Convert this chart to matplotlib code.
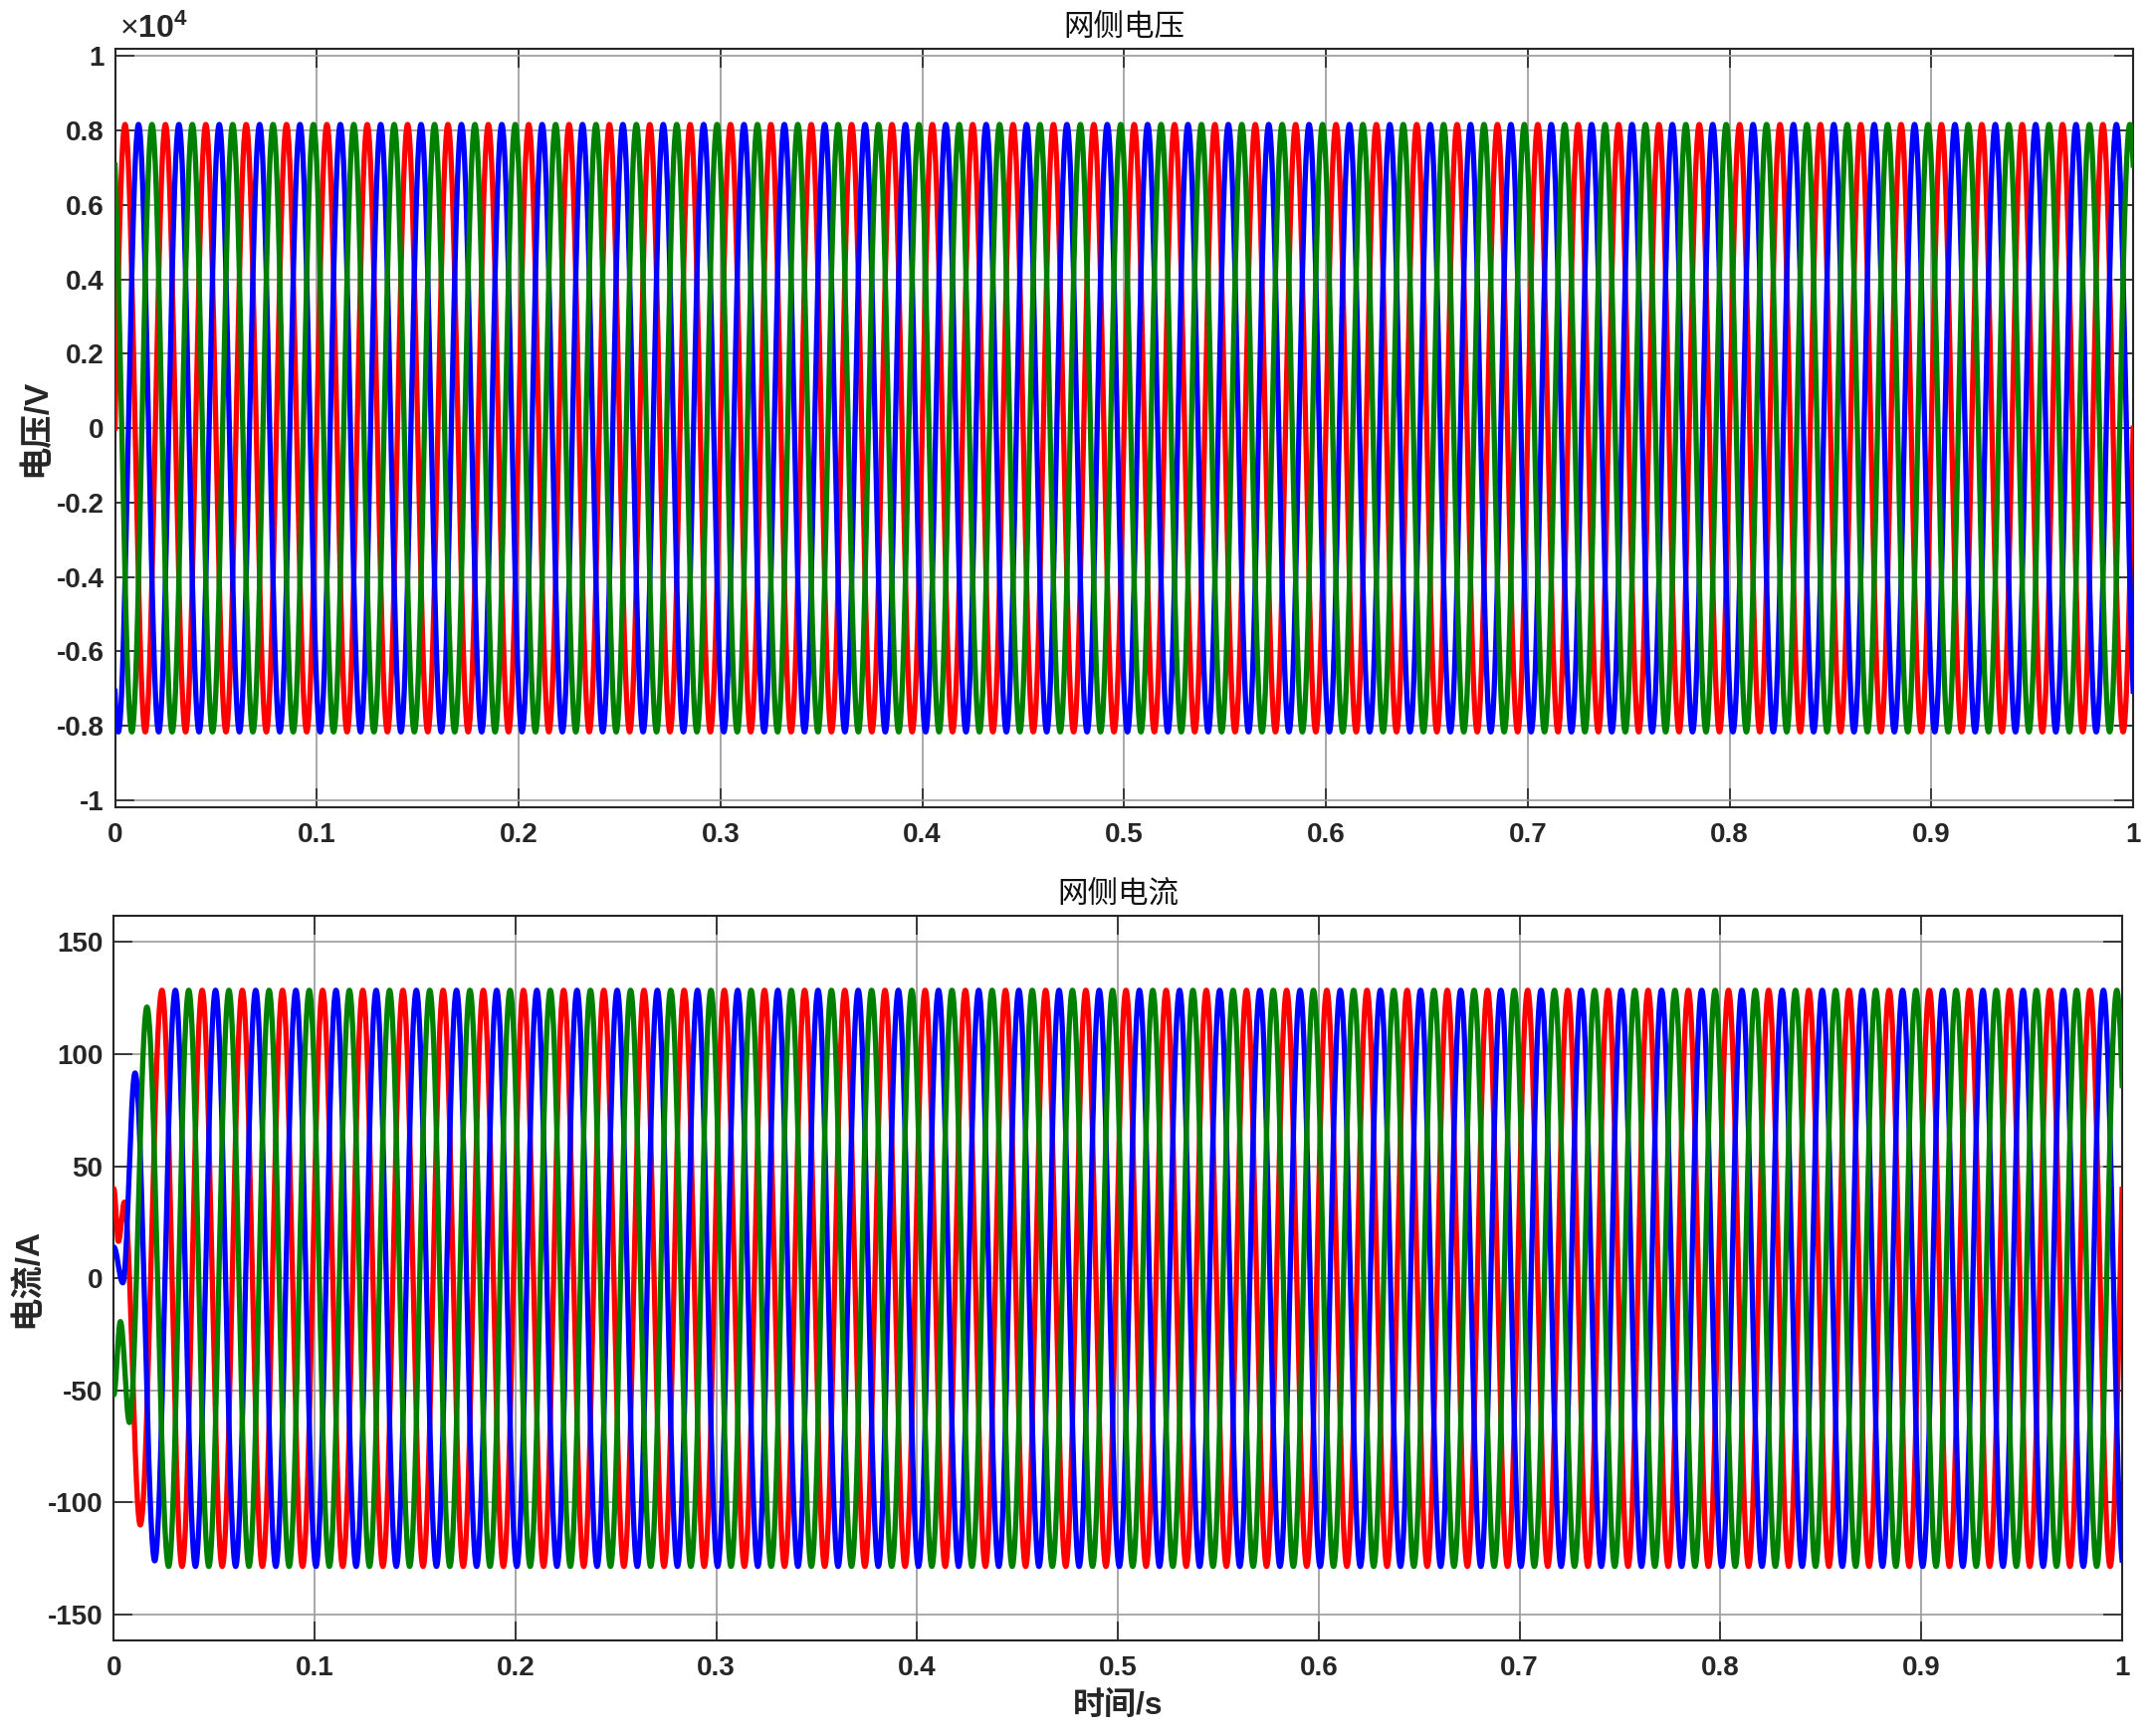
import numpy as np
import matplotlib
matplotlib.use("Agg")
import matplotlib.pyplot as plt
from matplotlib.ticker import FixedLocator, FuncFormatter

# ---------------- data ----------------
phase_names = ["a", "b", "c"]
phase_colors = ["#ff0000", "#0000ff", "#008000"]
phase_shift_deg = [0.0, -120.0, 120.0]     # phase of each line relative to phase a

grid_freq_hz = 50.0
voltage_peak_v = 8165.0                      # ~0.8165e4 V
voltage_phase_deg = 0.0
current_peak_a = 128.5
current_phase_deg = 18.0                     # current leads voltage slightly

# start-up transient of the current: extrema (t [s], i [A]);
# the last point of each list is the first steady-state extremum
current_start_t = {
    "a": [0.0, 0.0023, 0.0053, 0.0132, 0.0240],
    "b": [0.0, 0.0045, 0.0106, 0.0204, 0.03067],
    "c": [0.0, 0.0033, 0.0078, 0.0165, 0.02733],
}
current_start_i = {
    "a": [40.0, 16.5, 34.0, -110.0, 128.5],
    "b": [14.0, -2.0, 91.6, -126.0, 128.5],
    "c": [-52.0, -19.3, -64.3, 121.0, -128.5],
}

x_ticks = [0, 0.1, 0.2, 0.3, 0.4, 0.5, 0.6, 0.7, 0.8, 0.9, 1.0]
v_ticks = [-1e4, -0.8e4, -0.6e4, -0.4e4, -0.2e4, 0, 0.2e4, 0.4e4, 0.6e4, 0.8e4, 1e4]
i_ticks = [-150, -100, -50, 0, 50, 100, 150]

title_v = "网侧电压"
title_i = "网侧电流"
ylabel_v = "电压/V"
ylabel_i = "电流/A"
xlabel = "时间/s"

# ---------------- signals ----------------
t = np.linspace(0.0, 1.0, 40001)
w = 2 * np.pi * grid_freq_hz


def voltage(k):
    return voltage_peak_v * np.sin(w * t + np.deg2rad(voltage_phase_deg + phase_shift_deg[k]))


def current(k):
    name = phase_names[k]
    i = current_peak_a * np.sin(w * t + np.deg2rad(current_phase_deg + phase_shift_deg[k]))
    tk = current_start_t[name]
    vk = current_start_i[name]
    for j in range(len(tk) - 1):
        m = (t >= tk[j]) & (t < tk[j + 1])
        s = (t[m] - tk[j]) / (tk[j + 1] - tk[j])
        i[m] = vk[j] + (vk[j + 1] - vk[j]) * (1 - np.cos(np.pi * s)) / 2
    return i


# ---------------- styling ----------------
plt.rcParams["font.family"] = ["Liberation Sans", "Noto Sans CJK SC", "DejaVu Sans"]
plt.rcParams["mathtext.fontset"] = "custom"
plt.rcParams["mathtext.rm"] = "Liberation Sans"
plt.rcParams["mathtext.bf"] = "Liberation Sans:bold"

axis_col = "#262626"
grid_col = "#9a9a9a"
tick_fs = 20
cjk = ["Noto Sans CJK SC", "DejaVu Sans"]
lab_fam = ["Liberation Sans", "Noto Sans CJK SC"]

fig = plt.figure(figsize=(21.63, 17.44), dpi=100)
ax1 = fig.add_axes([0.0534, 0.535, 0.9374, 0.4367])
ax2 = fig.add_axes([0.05284, 0.05505, 0.93283, 0.41715])


def style(ax):
    ax.set_xlim(0, 1)
    ax.xaxis.set_major_locator(FixedLocator(x_ticks))
    ax.xaxis.set_major_formatter(FuncFormatter(lambda v, p: f"{v:g}"))
    ax.grid(True, color=grid_col, lw=1.2, zorder=0)
    ax.set_axisbelow(True)
    ax.tick_params(direction="in", length=14, width=1.2, colors=axis_col,
                   top=True, right=True, labelsize=tick_fs)
    ax.tick_params(axis="x", pad=11)
    ax.tick_params(axis="y", pad=8)
    for lbl in ax.get_xticklabels() + ax.get_yticklabels():
        lbl.set_fontweight("bold")
    for sp in ax.spines.values():
        sp.set_color(axis_col)
        sp.set_linewidth(1.5)


for k in range(3):
    ax1.plot(t, voltage(k), color=phase_colors[k], lw=3.8, zorder=3)
    ax2.plot(t, current(k), color=phase_colors[k], lw=3.8, zorder=3)

ax1.set_ylim(-10190, 10190)
ax1.yaxis.set_major_locator(FixedLocator(v_ticks))
ax1.yaxis.set_major_formatter(FuncFormatter(lambda v, p: f"{v / 1e4:g}"))
ax2.set_ylim(-161.5, 161.5)
ax2.yaxis.set_major_locator(FixedLocator(i_ticks))
ax2.yaxis.set_major_formatter(FuncFormatter(lambda v, p: f"{v:g}"))

style(ax1)
style(ax2)

ax1.set_title(title_v, family=cjk, fontsize=22, pad=9, color="#111111")
ax2.set_title(title_i, family=cjk, fontsize=22, pad=9, color="#111111")
ax1.set_ylabel(ylabel_v, family=lab_fam, fontsize=24, fontweight="bold", labelpad=3, color=axis_col)
ax2.set_ylabel(ylabel_i, family=lab_fam, fontsize=24, fontweight="bold", labelpad=3, color=axis_col)
ax2.set_xlabel(xlabel, family=lab_fam, fontsize=23, fontweight="bold", labelpad=7, color=axis_col)

ax1.text(0.002, 1.006, r"$\times\mathbf{10^{4}}$", transform=ax1.transAxes,
         fontsize=23, color=axis_col, ha="left", va="bottom")

fig.savefig("out.png", dpi=100)
